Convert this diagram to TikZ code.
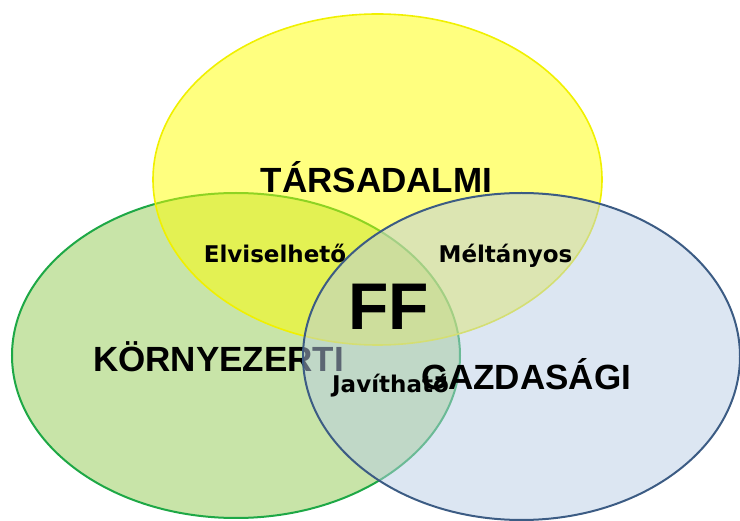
\documentclass[tikz,border=0pt]{standalone}
\usepackage{fontspec}
\setmainfont{Liberation Sans}
\newfontfamily\dejavu{DejaVu Sans}
\definecolor{kornyfill}{RGB}{200,228,168}
\definecolor{kornyline}{RGB}{30,168,70}
\definecolor{tarsfill}{RGB}{255,255,0}
\definecolor{tarsline}{RGB}{240,240,0}
\definecolor{gazdfill}{RGB}{185,205,230}
\definecolor{gazdline}{RGB}{60,92,132}
\tikzset{
  bigword/.style={font=\fontsize{35}{40}\selectfont\bfseries, anchor=base, inner sep=0pt},
  smallword/.style={font=\dejavu\fontsize{23}{26}\selectfont\bfseries, anchor=base, inner sep=0pt}
}

\begin{document}
\begin{tikzpicture}[x=1pt,y=-1pt]
	\useasboundingbox (0,0) rectangle (740,521);
	% three sets
	\draw[kornyline, line width=2pt, fill=kornyfill] (236,355.5) ellipse [x radius=224pt, y radius=162.5pt];
	\draw[tarsline, line width=1.6pt, fill=tarsfill, fill opacity=0.5] (377.5,179.5) ellipse [x radius=224.5pt, y radius=165.5pt];
	\node[bigword] (tars) at (376.5,193) {TÁRSADALMI};
	\node[bigword] (korny) at (218.5,372) {KÖRNYEZERTI};
	\draw[gazdline, line width=2pt, fill=gazdfill, fill opacity=0.5] (521.5,356.5) ellipse [x radius=218.5pt, y radius=163.5pt];
	% overlaps
	\node[smallword] (elvisel) at (275,263) {Elviselhető};
	\node[smallword] (meltany) at (505.5,263) {Méltányos};
	\node[smallword] (javit) at (390.5,393) {Javítható};
	\node[bigword] (gazd) at (526,390) {GAZDASÁGI};
	\node[bigword, font=\fontsize{66}{70}\selectfont\bfseries] (ff) at (388.5,330) {FF};
\end{tikzpicture}
\end{document}
